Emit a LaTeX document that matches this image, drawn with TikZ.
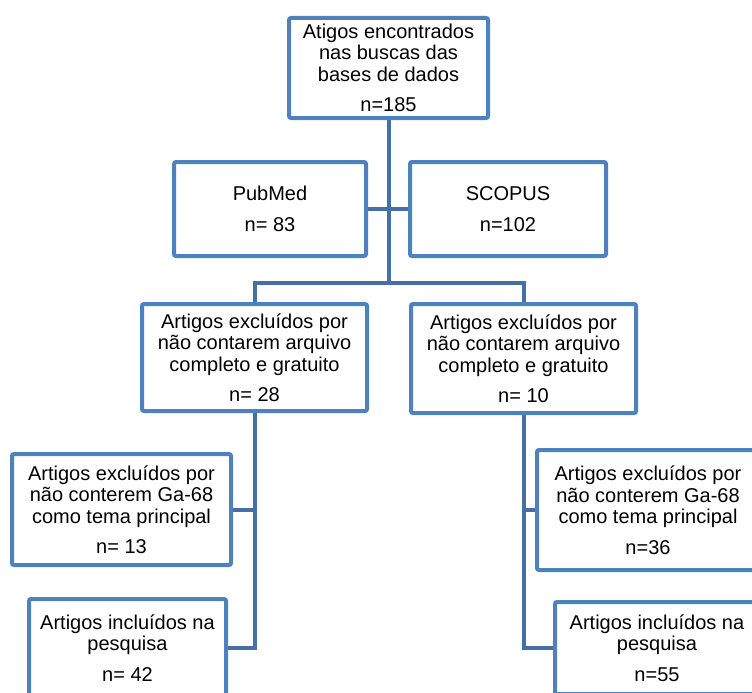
\documentclass[tikz,border=0pt]{standalone}
\usepackage{fontspec}
\setmainfont{Liberation Sans}
\usepackage{tikz}
\usetikzlibrary{positioning}
\usepackage{xcolor}
\definecolor{boxblue}{RGB}{79,129,189}
\definecolor{linkblue}{RGB}{68,112,166}
\tikzset{flowbox/.style={rectangle, draw=boxblue, fill=white, line width=4pt, rounded corners=2pt, align=center, inner sep=0pt, font=\fontsize{20}{21.5}\selectfont},
flowlink/.style={draw=linkblue, line width=4pt}}

\begin{document}
\begin{tikzpicture}[x=1pt, y=-1pt]
        \useasboundingbox (0, 0) rectangle (752, 693);
        \clip (0, 0) rectangle (752, 693);
        % Boxes
        \node[flowbox, minimum width=199pt, minimum height=100pt] (found) at (388.5, 68) {Atigos encontrados\\nas buscas das\\bases de dados\\[9pt]n=185};
        \node[flowbox, minimum width=192pt, minimum height=94pt] (pubmed) at (270, 209) {PubMed\\[9pt]n= 83};
        \node[flowbox, minimum width=196pt, minimum height=94pt] (scopus) at (508, 209) {SCOPUS\\[9pt]n=102};
        \node[flowbox, minimum width=225pt, minimum height=107pt] (exclleft) at (254.5, 357.5) {Artigos excluídos por\\não contarem arquivo\\completo e gratuito\\[9pt]n= 28};
        \node[flowbox, minimum width=225pt, minimum height=109pt] (exclright) at (523.5, 358.5) {Artigos excluídos por\\não contarem arquivo\\completo e gratuito\\[9pt]n= 10};
        \node[flowbox, minimum width=219pt, minimum height=111pt] (galeft) at (121.5, 509.5) {Artigos excluídos por\\não conterem Ga-68\\como tema principal\\[9pt]n= 13};
        \node[flowbox, minimum width=222pt, minimum height=120pt] (garight) at (648, 510) {Artigos excluídos por\\não conterem Ga-68\\como tema principal\\[9pt]n=36};
        \node[flowbox, minimum width=197pt, minimum height=98pt] (incleft) at (127.5, 648) {Artigos incluídos na\\pesquisa\\[9pt]n= 42};
        \node[flowbox, minimum width=204pt, minimum height=92pt] (incright) at (657, 648) {Artigos incluídos na\\pesquisa\\[9pt]n=55};
        % Lines
        \coordinate (split) at (388.5, 283);
        \draw[flowlink] (found.south) -- (split);
        \draw[flowlink] (pubmed.east) -- (scopus.west);
        \draw[flowlink] (exclleft.north) |- (split) -| (exclright.north);
        \draw[flowlink] (exclleft.south) |- (galeft.east);
        \draw[flowlink] (exclleft.south) |- (incleft.east);
        \draw[flowlink] (exclright.south) |- (garight.west);
        \draw[flowlink] (exclright.south) |- (incright.west);
    \end{tikzpicture}
\end{document}
